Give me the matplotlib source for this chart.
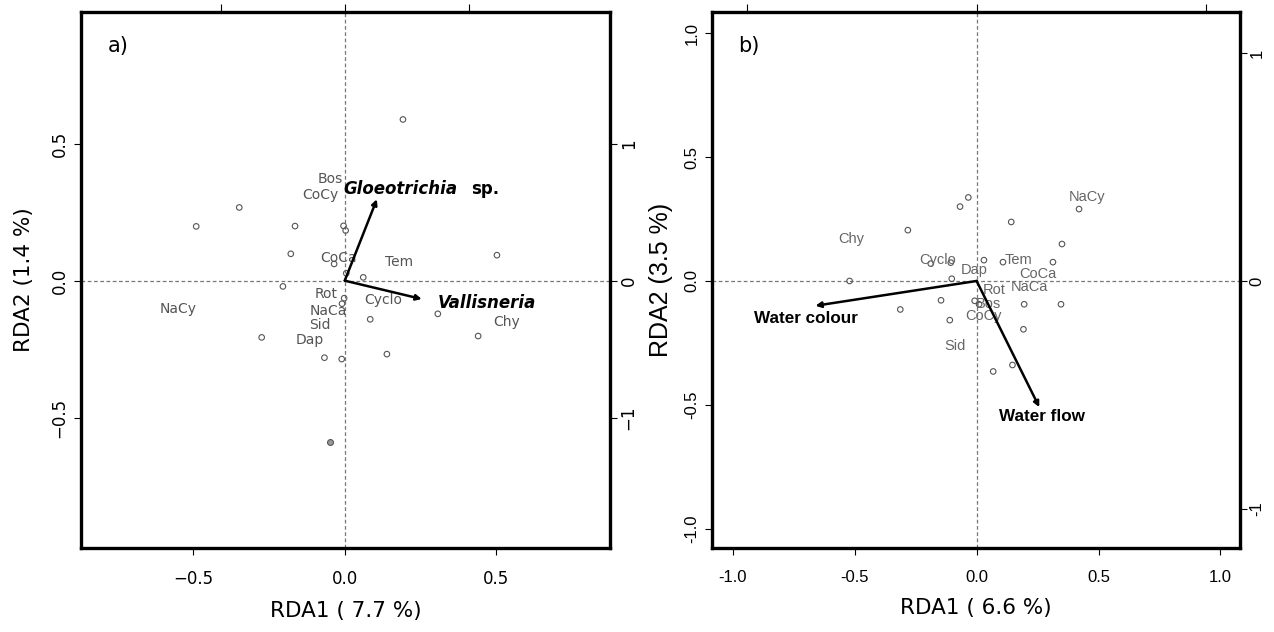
import matplotlib
matplotlib.use("Agg")
import matplotlib.pyplot as plt
import numpy as np

# ---- panel a: site scores, species scores and the two environmental arrows ----
sites_a_x = [0.192, -0.348, -0.490, -0.164, -0.004, 0.003, -0.178, 0.502, -0.035, 0.005, 0.061,
             -0.204, -0.002, -0.009, 0.084, 0.307, 0.440, -0.274, -0.067, -0.010, 0.139]
sites_a_y = [0.588, 0.267, 0.198, 0.199, 0.200, 0.183, 0.098, 0.093, 0.061, 0.027, 0.012,
             -0.021, -0.064, -0.084, -0.141, -0.121, -0.202, -0.207, -0.281, -0.286, -0.268]
# punto solapado (se ve relleno)
site_a_dup = (-0.048, -0.589)

spp_a = ["Bos", "CoCy", "CoCa", "Tem", "Rot", "Cyclo", "NaCa", "Sid", "Dap", "NaCy", "Chy"]
spp_a_x = [-0.049, -0.082, -0.022, 0.179, -0.060, 0.127, -0.053, -0.081, -0.114, -0.550, 0.533]
spp_a_y = [0.372, 0.313, 0.081, 0.067, -0.048, -0.070, -0.112, -0.161, -0.218, -0.102, -0.149]

env_a = ["Gloeotrichia", "Vallisneria"]
env_a_x = [0.106, 0.254]
env_a_y = [0.297, -0.067]

# ---- panel b ----
sites_b_x = [-0.034, -0.068, 0.420, 0.142, -0.282, 0.350, 0.313, 0.030, 0.108, -0.106, -0.188,
             -0.102, -0.521, -0.146, -0.313, -0.008, 0.010, 0.195, 0.346, -0.110, 0.192, 0.147, 0.068]
sites_b_y = [0.337, 0.300, 0.290, 0.238, 0.205, 0.149, 0.076, 0.084, 0.076, 0.074, 0.070,
             0.009, 0.000, -0.078, -0.115, -0.080, -0.094, -0.094, -0.094, -0.158, -0.195, -0.339, -0.365]

spp_b = ["NaCy", "Chy", "Cyclo", "Tem", "Dap", "CoCa", "NaCa", "Rot", "Bos", "CoCy", "Sid"]
spp_b_x = [0.452, -0.514, -0.160, 0.170, -0.008, 0.252, 0.215, 0.071, 0.050, 0.030, -0.089]
spp_b_y = [0.339, 0.171, 0.084, 0.084, 0.044, 0.029, -0.024, -0.035, -0.094, -0.143, -0.264]

env_b = ["Water colour", "Water flow"]
env_b_x = [-0.661, 0.257]
env_b_y = [-0.100, -0.509]

# escalas de los ejes secundarios (flechas)
esc_a_der, esc_a_sup = 2.0, 2.44
esc_b_der, esc_b_sup = 1.087, 1.064

DV = "DejaVu Sans"
LS = "Liberation Sans"

fig = plt.figure(figsize=(12.74, 6.32), dpi=100)
ax1 = fig.add_axes([0.0636, 0.133, 0.4152, 0.848])
ax2 = fig.add_axes([0.5589, 0.133, 0.4144, 0.848])


def marco(ax, xlim, ylim):
    ax.set_xlim(*xlim)
    ax.set_ylim(*ylim)
    for s in ax.spines.values():
        s.set_linewidth(2.4)
    ax.axhline(0, color="#777777", lw=0.9, ls=(0, (3, 2)), zorder=1)
    ax.axvline(0, color="#777777", lw=0.9, ls=(0, (3, 2)), zorder=1)
    ax.tick_params(axis="x", direction="out", length=5, width=0.8, pad=11)
    ax.tick_params(axis="y", direction="out", length=5, width=0.8, pad=4)


def ejes_sec(ax, f_der, f_sup, fam):
    der = ax.secondary_yaxis("right", functions=(lambda v: v * f_der, lambda v: v / f_der))
    der.set_yticks([-1, 0, 1])
    der.set_yticklabels(["-1" if fam == LS else "\u22121", "0", "1"], family=fam, fontsize=12,
                        rotation=90, va="center")
    der.tick_params(direction="out", length=5, width=0.8, pad=2)
    der.spines["right"].set_visible(False)
    sup = ax.secondary_xaxis("top", functions=(lambda v: v * f_sup, lambda v: v / f_sup))
    sup.set_xticks([-1, 0, 1])
    sup.set_xticklabels([])
    sup.tick_params(direction="out", length=6, width=0.8)
    sup.spines["top"].set_visible(False)


# ---------------- a) ----------------
marco(ax1, (-0.87, 0.875), (-0.975, 0.98))
ax1.scatter(sites_a_x, sites_a_y, s=16, facecolors="none", edgecolors="#555555", linewidths=0.8, zorder=3)
ax1.scatter([site_a_dup[0]], [site_a_dup[1]], s=18, facecolors="#999999", edgecolors="#555555",
            linewidths=0.8, zorder=3)
for nom, x, y in zip(spp_a, spp_a_x, spp_a_y):
    ax1.text(x, y, nom, ha="center", va="center", fontsize=10, color="#555555", family=DV, zorder=4)
for x, y in zip(env_a_x, env_a_y):
    ax1.annotate("", xy=(x, y), xytext=(0, 0),
                 arrowprops=dict(arrowstyle="-|>", lw=1.8, color="black", mutation_scale=8,
                                 shrinkA=0, shrinkB=0), zorder=5)
ax1.text(-0.003, 0.336, "Gloeotrichia", ha="left", va="center", fontsize=12, fontweight="bold",
         style="italic", family=DV)
ax1.text(0.418, 0.336, "sp.", ha="left", va="center", fontsize=12, fontweight="bold", family=DV)
ax1.text(0.47, -0.083, "Vallisneria", ha="center", va="center", fontsize=12, fontweight="bold",
         style="italic", family=DV)
ax1.text(0.05, 0.955, "a)", transform=ax1.transAxes, fontsize=15, family=DV, va="top")

ax1.set_xticks([-0.5, 0, 0.5])
ax1.set_xticklabels(["\u22120.5", "0.0", "0.5"], family=DV, fontsize=12)
ax1.set_yticks([-0.5, 0, 0.5])
ax1.set_yticklabels(["\u22120.5", "0.0", "0.5"], family=DV, fontsize=12, rotation=90, va="center")
ax1.set_xlabel("RDA1 ( 7.7 %)", family=DV, fontsize=15.5, labelpad=9)
ax1.set_ylabel("RDA2 (1.4 %)", family=DV, fontsize=15.5, labelpad=12)
ejes_sec(ax1, esc_a_der, esc_a_sup, DV)

# ---------------- b) ----------------
marco(ax2, (-1.085, 1.08), (-1.077, 1.085))
ax2.scatter(sites_b_x, sites_b_y, s=16, facecolors="none", edgecolors="#555555", linewidths=0.8, zorder=3)
for nom, x, y in zip(spp_b, spp_b_x, spp_b_y):
    ax2.text(x, y, nom, ha="center", va="center", fontsize=10.5, color="#666666", family=LS, zorder=4)
for x, y in zip(env_b_x, env_b_y):
    ax2.annotate("", xy=(x, y), xytext=(0, 0),
                 arrowprops=dict(arrowstyle="-|>", lw=1.8, color="black", mutation_scale=8,
                                 shrinkA=0, shrinkB=0), zorder=5)
ax2.text(-0.698, -0.151, "Water colour", ha="center", va="center", fontsize=12.3, fontweight="bold", family=LS)
ax2.text(0.268, -0.546, "Water flow", ha="center", va="center", fontsize=12.3, fontweight="bold", family=LS)
ax2.text(0.05, 0.955, "b)", transform=ax2.transAxes, fontsize=15, family=DV, va="top")

ticks_b = [-1.0, -0.5, 0.0, 0.5, 1.0]
ax2.set_xticks(ticks_b)
ax2.set_xticklabels(["%.1f" % t for t in ticks_b], family=LS, fontsize=12)
ax2.set_yticks(ticks_b)
ax2.set_yticklabels(["%.1f" % t for t in ticks_b], family=LS, fontsize=12, rotation=90, va="center")
ax2.set_xlabel("RDA1 ( 6.6 %)", family=DV, fontsize=15.5, labelpad=9)
ax2.set_ylabel("RDA2 (3.5 %)", family=LS, fontsize=18, labelpad=8)
ejes_sec(ax2, esc_b_der, esc_b_sup, LS)

fig.savefig("out.png", dpi=100)
plt.close(fig)
